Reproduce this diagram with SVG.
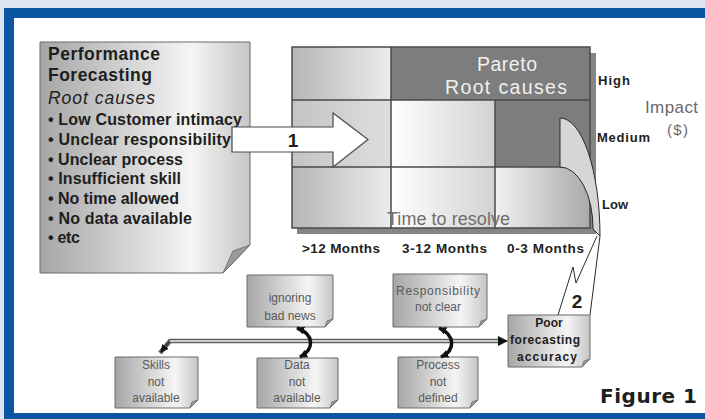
<svg xmlns="http://www.w3.org/2000/svg" width="705" height="419" viewBox="0 0 705 419">
<defs>
<style>
.f{font-family:"Liberation Sans",Arial,sans-serif}
.hd{font-family:"Liberation Sans",Arial,sans-serif;font-weight:bold;font-size:17.5px;fill:#1e1e1e}
.bl{font-family:"Liberation Sans",Arial,sans-serif;font-weight:bold;font-size:16px;fill:#1e1e1e}
.mo{font-family:"Liberation Sans",Arial,sans-serif;font-weight:bold;font-size:13.5px;fill:#1e1e1e}
.lv{font-family:"Liberation Sans",Arial,sans-serif;font-weight:bold;font-size:13px;fill:#1e1e1e}
.sm{font-family:"Liberation Sans",Arial,sans-serif;font-size:12px;fill:#5a5a5a;text-anchor:middle}
.pb{font-family:"Liberation Sans",Arial,sans-serif;font-weight:bold;font-size:12px;fill:#1e1e1e;text-anchor:middle}
.box{stroke:#6a6a6a;stroke-width:1;fill:url(#gBox)}
.fold{fill:#9a9a9a;stroke:#6a6a6a;stroke-width:0.8}
.gl{stroke:#4a4a4a;stroke-width:1.5;fill:none}
</style>
<linearGradient id="gBox" x1="0" y1="0" x2="1" y2="0">
<stop offset="0" stop-color="#a6a6a6"/><stop offset="0.72" stop-color="#f5f5f5"/><stop offset="1" stop-color="#c6c6c6"/>
</linearGradient>
<linearGradient id="gC1" x1="0" y1="0" x2="1" y2="0">
<stop offset="0" stop-color="#b6b6b6"/><stop offset="1" stop-color="#ececec"/>
</linearGradient>
<linearGradient id="gC1b" x1="0" y1="0" x2="1" y2="0">
<stop offset="0" stop-color="#c4c4c4"/><stop offset="1" stop-color="#dedede"/>
</linearGradient>
<linearGradient id="gC2" x1="0" y1="0" x2="1" y2="0">
<stop offset="0" stop-color="#ffffff"/><stop offset="1" stop-color="#d2d2d2"/>
</linearGradient>
<linearGradient id="gC3" x1="0" y1="0" x2="1" y2="0">
<stop offset="0" stop-color="#f2f2f2"/><stop offset="1" stop-color="#a9a9a9"/>
</linearGradient>
<marker id="ah" viewBox="0 0 10 10" refX="9" refY="5" markerWidth="10" markerHeight="10" markerUnits="userSpaceOnUse" orient="auto">
<path d="M0,0 L10,5 L0,10 Z" fill="#111"/>
</marker>
<marker id="ahs" viewBox="0 0 10 10" refX="9" refY="5" markerWidth="8" markerHeight="8" markerUnits="userSpaceOnUse" orient="auto-start-reverse">
<path d="M0,0 L10,5 L0,10 Z" fill="#111"/>
</marker>
</defs>

<g id="frame">
<rect width="705" height="419" fill="#dde5f2"/>
<rect x="4" y="8" width="701" height="411" fill="#0b56a3"/>
<rect x="14" y="18" width="691" height="395" fill="#ffffff"/>
</g>

<g id="node-root-causes">
<path class="box" d="M40,42 H250 V245 L223,273 H40 Z"/>
<polygon class="fold" points="250,245 233,251 223,273"/>
<text class="hd" x="48" y="60" textLength="112" lengthAdjust="spacing">Performance</text>
<text class="hd" x="48" y="81" textLength="104" lengthAdjust="spacing">Forecasting</text>
<text class="f" x="48" y="104" font-size="17.5" font-style="italic" fill="#1e1e1e" textLength="107" lengthAdjust="spacing">Root causes</text>
<text class="bl" x="48" y="125" textLength="194" lengthAdjust="spacing">• Low Customer intimacy</text>
<text class="bl" x="48" y="145" textLength="183" lengthAdjust="spacing">• Unclear responsibility</text>
<text class="bl" x="48" y="165" textLength="135" lengthAdjust="spacing">• Unclear process</text>
<text class="bl" x="48" y="184" textLength="133" lengthAdjust="spacing">• Insufficient skill</text>
<text class="bl" x="48" y="204" textLength="131" lengthAdjust="spacing">• No time allowed</text>
<text class="bl" x="48" y="224" textLength="144" lengthAdjust="spacing">• No data available</text>
<text class="bl" x="48" y="243" textLength="32" lengthAdjust="spacing">• etc</text>
</g>

<g id="node-pareto-grid">
<rect x="297" y="53" width="299" height="181" fill="#858585"/>
<rect x="292" y="47" width="99" height="53" fill="url(#gC1)"/>
<rect x="391" y="47" width="199" height="53" fill="#7d7d7d"/>
<rect x="292" y="100" width="99" height="67" fill="url(#gC1b)"/>
<rect x="391" y="100" width="104" height="67" fill="url(#gC2)"/>
<rect x="495" y="100" width="95" height="67" fill="#7d7d7d"/>
<rect x="292" y="167" width="99" height="61" fill="url(#gC1)"/>
<rect x="391" y="167" width="104" height="61" fill="url(#gC2)"/>
<rect x="495" y="167" width="95" height="61" fill="url(#gC3)"/>
<rect class="gl" x="292" y="47" width="298" height="181"/>
<path class="gl" d="M292,100 H590 M292,167 H590 M391,47 V228 M495,100 V228"/>
<text class="f" x="477" y="71" font-size="19.5" fill="#f0f0f0" textLength="60" lengthAdjust="spacing">Pareto</text>
<text class="f" x="445" y="94" font-size="19.5" fill="#f0f0f0" textLength="122" lengthAdjust="spacing">Root causes</text>
<text class="f" x="387" y="225" font-size="18" fill="#6e6e6e" textLength="123" lengthAdjust="spacing">Time to resolve</text>
<path d="M560,118 A40,118 0 0 1 600,236 L593,229 A33,61 0 0 0 560,167 Z" fill="#d6d6d6" stroke="#2a2a2a" stroke-width="1"/>
</g>

<g id="node-axis-labels">
<text class="mo" x="302" y="253" textLength="78" lengthAdjust="spacing">&gt;12 Months</text>
<text class="mo" x="402" y="253" textLength="85" lengthAdjust="spacing">3-12 Months</text>
<text class="mo" x="507" y="253" textLength="77" lengthAdjust="spacing">0-3 Months</text>
<text class="lv" x="598" y="85" textLength="32" lengthAdjust="spacing">High</text>
<text class="lv" x="597" y="142" textLength="53" lengthAdjust="spacing">Medium</text>
<text class="lv" x="602" y="209" textLength="26" lengthAdjust="spacing">Low</text>
<text class="f" x="645" y="113" font-size="17" fill="#6a6a6a" textLength="53" lengthAdjust="spacing">Impact</text>
<text class="f" x="667" y="135" font-size="15" fill="#6a6a6a" textLength="21" lengthAdjust="spacing">($)</text>
</g>

<g id="node-arrow-1">
<polygon points="232,127 333,127 333,113 368,139.5 333,167 333,152 232,152" fill="#ffffff" stroke="#4a4a4a" stroke-width="1.2"/>
<text class="f" x="293" y="147" font-size="19" font-weight="bold" fill="#1e1e1e" text-anchor="middle">1</text>
</g>

<g id="node-callout-2">
<path d="M558,315 L573,267 L576,283 L597,236" fill="none" stroke="#2a2a2a" stroke-width="1"/>
<path d="M600,236 L590,315" fill="none" stroke="#2a2a2a" stroke-width="1"/>
<text class="f" x="577" y="308" font-size="19" font-weight="bold" fill="#1e1e1e" text-anchor="middle">2</text>
</g>

<g id="node-ignoring">
<path class="box" d="M247,275 H333 V319 L325,327 H247 Z"/>
<polygon class="fold" points="333,319 327,321 325,327"/>
<text class="sm" x="290" y="302">ignoring</text>
<text class="sm" x="290" y="320">bad news</text>
</g>

<g id="node-responsibility">
<path class="box" d="M393,274 H487 V319 L479,327 H393 Z"/>
<polygon class="fold" points="487,319 481,321 479,327"/>
<text class="sm" x="438" y="295" textLength="84" lengthAdjust="spacing">Responsibility</text>
<text class="sm" x="438" y="311">not clear</text>
</g>

<g id="node-skills">
<path class="box" d="M115,357 H198 V400 L190,408 H115 Z"/>
<polygon class="fold" points="198,400 192,402 190,408"/>
<text class="sm" x="156" y="369">Skills</text>
<text class="sm" x="156" y="386">not</text>
<text class="sm" x="156" y="402">available</text>
</g>

<g id="node-data">
<path class="box" d="M257,358 H338 V400 L330,408 H257 Z"/>
<polygon class="fold" points="338,400 332,402 330,408"/>
<text class="sm" x="297" y="369">Data</text>
<text class="sm" x="297" y="386">not</text>
<text class="sm" x="297" y="402">available</text>
</g>

<g id="node-process">
<path class="box" d="M398,357 H478 V400 L470,408 H398 Z"/>
<polygon class="fold" points="478,400 472,402 470,408"/>
<text class="sm" x="438" y="369">Process</text>
<text class="sm" x="438" y="386">not</text>
<text class="sm" x="438" y="402">defined</text>
</g>

<g id="node-poor-forecasting">
<path class="box" d="M508,315 H590 V359 L582,367 H508 Z"/>
<polygon class="fold" points="590,359 584,361 582,367"/>
<text class="pb" x="549" y="327">Poor</text>
<text class="pb" x="545" y="344" textLength="70" lengthAdjust="spacing">forecasting</text>
<text class="pb" x="547" y="361" textLength="60" lengthAdjust="spacing">accuracy</text>
</g>

<g id="connectors">
<path d="M160,353 L170,341 H498" fill="none" stroke="#5e5e5e" stroke-width="4.5"/>
<path d="M170,341 H498" fill="none" stroke="#c9c9c9" stroke-width="2"/>
<path d="M498,341 H507" fill="none" stroke="#111" stroke-width="1" marker-end="url(#ah)"/>
<path d="M169,342 L161,352" fill="none" stroke="#111" stroke-width="1" marker-end="url(#ahs)"/>
<path d="M297,328 C314,334 315,349 300,357" fill="none" stroke="#111" stroke-width="3.5" marker-start="url(#ahs)" marker-end="url(#ahs)"/>
<path d="M439,328 C455,335 456,350 441,357" fill="none" stroke="#111" stroke-width="3.5" marker-start="url(#ahs)" marker-end="url(#ahs)"/>
</g>

<g id="caption">
<text x="600" y="403" font-family="'DejaVu Sans',sans-serif" font-size="20" font-weight="bold" fill="#1e1e1e" textLength="97" lengthAdjust="spacing">Figure 1</text>
</g>
</svg>
